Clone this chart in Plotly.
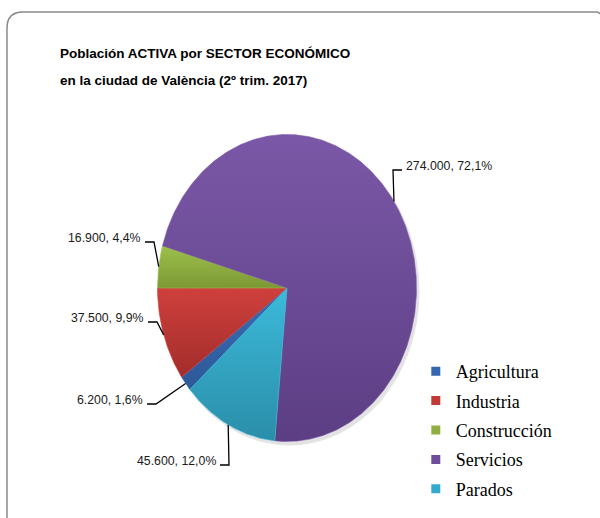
import numpy as np
import plotly.graph_objects as go

# === DATA ===
sectores = ["Agricultura", "Industria", "Construcción", "Servicios", "Parados"]
personas = [6200, 37500, 16900, 274000, 45600]
titulo_1 = "Población ACTIVA por SECTOR ECONÓMICO"
titulo_2 = "en la ciudad de València (2º trim. 2017)"

# colours (top -> bottom of each slice, Excel-like shading)
colores_top = ["#3B6DB6", "#CF403C", "#9DC14B", "#7B58A7", "#3CBADA"]
colores_bot = ["#2D5898", "#A22D2B", "#7C9836", "#5C3E84", "#2A8EA9"]
colores_leg = ["#3467B0", "#C23936", "#8FB040", "#6E4E9A", "#33AACB"]

# === LAYOUT CONSTANTS (pixel space, y grows downward) ===
W, H = 600, 518
CX, CY = 287, 288          # pie centre
RX, RY = 129.5, 153.5      # pie is an ellipse in the reference
ROTATION = 228.6           # first slice starts here (deg clockwise from 12 o'clock)

# leader elbow point + side for each label
leader_elbow = {
    "Agricultura": (156, 404, -1),
    "Industria": (157, 322, -1),
    "Construcción": (154, 242, -1),
    "Servicios": (393, 170, 1),
    "Parados": (229, 465, -1),
}

LABEL_FONT = "Liberation Sans, Arial, sans-serif"
LEGEND_FONT = "Liberation Serif, DejaVu Serif, serif"

total = sum(personas)
fracs = [v / total for v in personas]


def fmt_label(v, f):
    num = f"{v:,}".replace(",", ".")
    pct = f"{f * 100:.1f}".replace(".", ",")
    return f"{num}, {pct}%"


fig = go.Figure()

# soft shadow under the pie
fig.add_shape(type="circle", xref="x", yref="y",
              x0=CX - RX + 2, x1=CX + RX + 3, y0=CY - RY + 3, y1=CY + RY + 4,
              fillcolor="rgba(0,0,0,0.11)", line=dict(width=0), layer="below")

# ------------------------------------------------------------------ #
# Slices (drawn clockwise from the start angle)
# ------------------------------------------------------------------ #
start = 90.0 - ROTATION
ang = start
annotations = []
shapes = []
for i, (name, v, f) in enumerate(zip(sectores, personas, fracs)):
    span = f * 360.0
    a0, a1 = ang, ang - span
    n = max(6, int(span * 2))
    t = np.radians(np.linspace(a0, a1, n))
    xs = np.concatenate([[CX], CX + RX * np.cos(t), [CX]])
    ys = np.concatenate([[CY], CY - RY * np.sin(t), [CY]])
    fig.add_trace(go.Scatter(
        x=xs, y=ys, mode="lines", fill="toself",
        line=dict(width=0.6, color=colores_top[i]),
        fillgradient=dict(type="vertical",
                          colorscale=[[0, colores_bot[i]], [1, colores_top[i]]]),
        hoverinfo="skip", showlegend=False,
    ))

    # leader line from mid-angle on the rim
    mid = np.radians((a0 + a1) / 2)
    ex, ey = CX + RX * np.cos(mid), CY - RY * np.sin(mid)
    bx, by, side = leader_elbow[name]
    hx = bx + side * 9
    fig.add_trace(go.Scatter(
        x=[ex, bx, hx], y=[ey, by, by], mode="lines",
        line=dict(color="black", width=1.3),
        hoverinfo="skip", showlegend=False,
    ))
    annotations.append(dict(
        x=hx + side * 2, y=by - 4, xref="x", yref="y",
        text=fmt_label(v, f), showarrow=False,
        xanchor="right" if side < 0 else "left", yanchor="middle",
        font=dict(family=LABEL_FONT, size=12.3, color="#1a1a1a"),
    ))
    ang = a1

# legend entries
for i, name in enumerate(sectores):
    fig.add_trace(go.Scatter(
        x=[None], y=[None], mode="markers", name=name, legendgroup=name,
        marker=dict(symbol="square", size=9, color=colores_leg[i]),
    ))

# title
for txt, yy in [(titulo_1, 53), (titulo_2, 80)]:
    annotations.append(dict(x=58, y=yy, xref="x", yref="y", text=f"<b>{txt}</b>",
                            showarrow=False, xanchor="left", yanchor="middle",
                            font=dict(family=LABEL_FONT, size=13.5, color="black")))

# outer frame with rounded top-left corner
shapes.append(dict(type="path", xref="x", yref="y",
                   path="M 7,530 L 7,28 Q 7,12 23,12 L 596,12 Q 600,12 602,16",
                   line=dict(color="#8a8a8a", width=1.5), layer="below"))

fig.update_layout(
    width=W, height=H,
    margin=dict(l=0, r=0, t=0, b=0),
    paper_bgcolor="white", plot_bgcolor="white",
    xaxis=dict(range=[0, W], visible=False, fixedrange=True),
    yaxis=dict(range=[H, 0], visible=False, fixedrange=True),
    annotations=annotations,
    shapes=list(fig.layout.shapes) + shapes,
    showlegend=True,
    legend=dict(x=0.693, y=0.3185, xanchor="left", yanchor="top",
                font=dict(family=LEGEND_FONT, size=18, color="black"),
                tracegroupgap=3, bgcolor="rgba(0,0,0,0)"),
    hovermode=False,
)

fig.write_html("out.html", config={"displayModeBar": False},
               post_script="document.body.style.margin='0';")
